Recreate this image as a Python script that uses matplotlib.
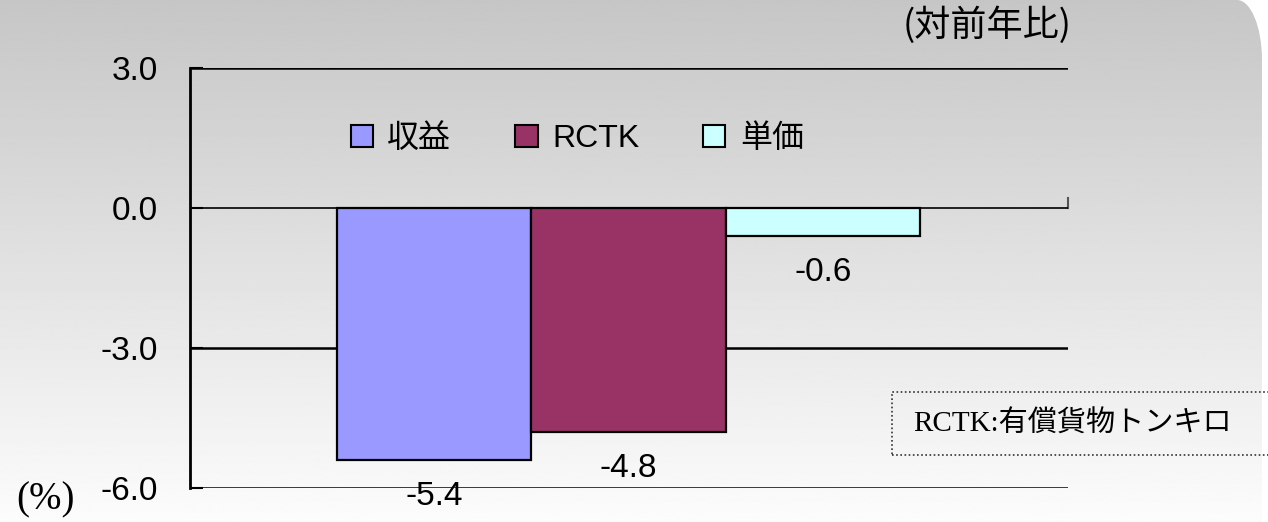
import numpy as np
import matplotlib
matplotlib.use("Agg")
import matplotlib.pyplot as plt
from matplotlib.patches import Patch, PathPatch, Rectangle
from matplotlib.path import Path

plt.rcParams['font.family'] = ['Liberation Sans', 'Noto Sans CJK JP', 'DejaVu Sans']
plt.rcParams['axes.unicode_minus'] = False

# data
series = ['収益', 'RCTK', '単価']
values = [-5.4, -4.8, -0.6]
colors = ['#9999FF', '#993366', '#CCFFFF']
yticks = [-6.0, -3.0, 0.0, 3.0]

num_size = 24

W, H = 1268, 522
fig = plt.figure(figsize=(W / 100, H / 100), dpi=100)
fig.patch.set_facecolor('white')

# background panel with gradient and rounded top-right corner
bg = fig.add_axes([0, 0, 1, 1])
bg.set_xlim(0, W)
bg.set_ylim(0, H)
bg.axis('off')
grad = np.linspace(198, 252, 256)[:, None]
im = bg.imshow(grad, cmap='gray', vmin=0, vmax=255, extent=[0, 1262, 0, H],
               aspect='auto', origin='upper', zorder=0)
rx, ry, k = 25, 60, 0.5523
verts = [(0, 0), (1262, 0), (1262, H - ry),
         (1262, H - ry + k * ry), (1262 - rx + k * rx, H), (1262 - rx, H),
         (0, H), (0, 0)]
codes = [Path.MOVETO, Path.LINETO, Path.LINETO,
         Path.CURVE4, Path.CURVE4, Path.CURVE4,
         Path.LINETO, Path.CLOSEPOLY]
panel = PathPatch(Path(verts, codes), facecolor='none', edgecolor='none')
bg.add_patch(panel)
im.set_clip_path(panel)

# note box
bg.add_patch(Rectangle((892, H - 455), 420, 63, fill=False, edgecolor='#333333',
                       linestyle=(0, (1, 1.5)), linewidth=1.2, clip_on=False))
bg.text(913, H - 424, 'RCTK:有償貨物トンキロ', ha='left', va='center', fontsize=21,
        family=['Liberation Serif', 'Noto Sans CJK JP'])
bg.text(903, H - 25, '(対前年比)', ha='left', va='center', fontsize=26,
        family=['Noto Sans CJK JP'])
bg.text(16, H - 500, '(%)', ha='left', va='center', fontsize=28,
        family=['Liberation Serif'])

# main chart
ax = fig.add_axes([190 / W, 1 - 488 / H, 878 / W, 420 / H])
ax.set_facecolor('none')
x = np.arange(len(values))
ax.bar(x, values, width=1.0, color=colors, edgecolor='black', linewidth=1.6, zorder=3)
ax.set_xlim(-1.2566, 3.2617)
ax.set_ylim(-6, 3)

for t in yticks:
    if t != 0:
        ax.axhline(t, color='black', linewidth=1.8, zorder=1)
ax.axhline(0, color='black', linewidth=1.2, zorder=4)
ax.plot([3.2617, 3.2617], [0, 0.21], color='#555555', linewidth=1.5, clip_on=False)

for s in ['top', 'right', 'bottom']:
    ax.spines[s].set_visible(False)
ax.spines['left'].set_linewidth(2)
ax.set_xticks([])
ax.set_yticks(yticks)
ax.set_yticklabels([f'{t:.1f}' for t in yticks], fontsize=num_size)
ax.tick_params(axis='y', direction='in', length=9, width=1.5, pad=23)

for xi, v in zip(x, values):
    ax.annotate(f'{v:.1f}', (xi, v), xytext=(0, -26), textcoords='offset points',
                ha='center', va='center', fontsize=num_size)

handles = [Patch(facecolor=c, edgecolor='black', linewidth=1.5) for c in colors]
ax.legend(handles, series, ncol=3, loc='center', bbox_to_anchor=(0.441, 0.83),
          frameon=False, fontsize=23, handlelength=0.7, handleheight=0.7,
          handletextpad=0.45, columnspacing=2.0)

fig.savefig('out.png', dpi=100)
